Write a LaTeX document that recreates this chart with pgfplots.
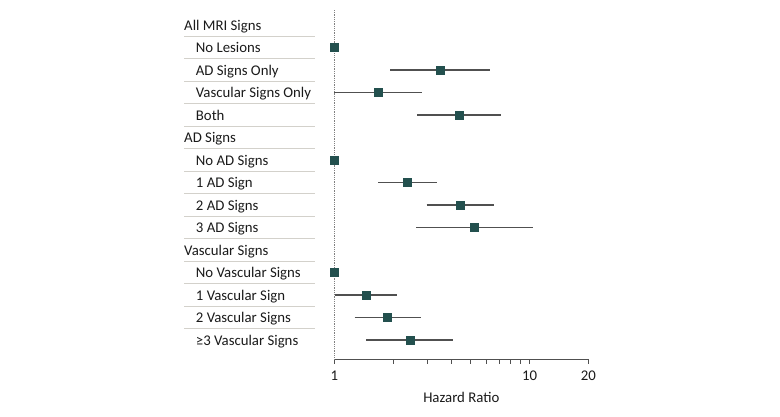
\documentclass[border=0pt]{standalone}
\usepackage{pgfplots}
\pgfplotsset{compat=1.18}
\usepackage{pgfplotstable}
\usepackage{fontspec}
\setmainfont{Carlito}
\definecolor{mk}{HTML}{23504E}
\definecolor{ci}{HTML}{505050}
\definecolor{sep}{HTML}{D3D1CB}
\definecolor{txt}{HTML}{1A1A1A}
\pgfplotstableread{
row hr lo hi
-1 1 1 1
-2 3.48 1.93 6.28
-3 1.68 1.00 2.80
-4 4.37 2.66 7.13
-6 1 1 1
-7 2.36 1.68 3.35
-8 4.41 2.97 6.57
-9 5.20 2.63 10.4
-11 1 1 1
-12 1.45 1.01 2.09
-13 1.86 1.27 2.78
-14 2.44 1.46 4.04
}\hrdata
\begin{document}
\begin{tikzpicture}[x=1bp,y=1bp,font=\fontsize{14.8bp}{17bp}\selectfont]
\useasboundingbox (0,0) rectangle (780,416);
\foreach \k in {0,...,13} {
  \draw[sep, line width=0.8bp] (184,{416-(25+22.5*\k+11.3)}) -- (315,{416-(25+22.5*\k+11.3)});
}
\foreach \k/\lab in {0/All MRI Signs, 5/AD Signs, 10/Vascular Signs} {
  \node[anchor=base west, inner sep=0pt, text=txt] at (184,{416-(25+22.5*\k+5)}) {\lab};
}
\foreach \k/\lab in {1/No Lesions, 2/AD Signs Only, 3/Vascular Signs Only, 4/Both,
  6/No AD Signs, 7/1 AD Sign, 8/2 AD Signs, 9/3 AD Signs,
  11/No Vascular Signs, 12/1 Vascular Sign, 13/2 Vascular Signs, 14/≥3 Vascular Signs} {
  \node[anchor=base west, inner sep=0pt, text=txt] at (195.7,{416-(25+22.5*\k+5)}) {\lab};
}
\begin{axis}[
  at={(334.3bp,56.7bp)}, anchor=south west,
  scale only axis, width=254bp, height=349.3bp,
  xmode=log, xmin=1, xmax=20, ymin=-14.86, ymax=0.667,
  axis x line*=bottom, axis y line=none,
  x axis line style={ci, line width=0.9bp},
  xtick={1,10,20}, xticklabels={1,10,20},
  minor xtick={2,3,4,5,6,7,8,9},
  tick align=outside, major tick length=4.5bp, minor tick length=4.5bp,
  tick style={ci, line width=0.9bp},
  ytick=\empty,
  /pgf/number format/assume math mode=true,
  xticklabel style={font=\fontsize{14.8bp}{17bp}\selectfont, text=txt, yshift=-4bp},
  xlabel={Hazard Ratio},
  xlabel style={font=\fontsize{14.8bp}{17bp}\selectfont, text=txt, yshift=-4bp},
  clip=false,
]
\addplot[gray, densely dotted, line width=0.8bp] coordinates {(1,-14.86) (1,0.667)};
\addplot[ci, line width=1.2bp] coordinates {(1.93,-2) (6.28,-2)};
\addplot[ci, line width=1.2bp] coordinates {(1.00,-3) (2.80,-3)};
\addplot[ci, line width=1.2bp] coordinates {(2.66,-4) (7.13,-4)};
\addplot[ci, line width=1.2bp] coordinates {(1.68,-7) (3.35,-7)};
\addplot[ci, line width=1.2bp] coordinates {(2.97,-8) (6.57,-8)};
\addplot[ci, line width=1.2bp] coordinates {(2.63,-9) (10.4,-9)};
\addplot[ci, line width=1.2bp] coordinates {(1.01,-12) (2.09,-12)};
\addplot[ci, line width=1.2bp] coordinates {(1.27,-13) (2.78,-13)};
\addplot[ci, line width=1.2bp] coordinates {(1.46,-14) (4.04,-14)};
\addplot[only marks, mark=square*, mark size=4.1bp, mark options={fill=mk, draw=mk}] table[x=hr, y=row] {\hrdata};
\end{axis}
\end{tikzpicture}
\end{document}
